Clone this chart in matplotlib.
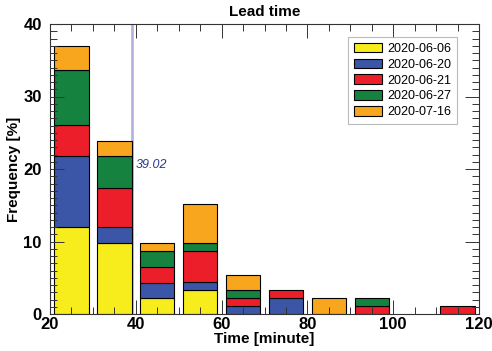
import matplotlib
matplotlib.use("Agg")
import matplotlib.pyplot as plt
import numpy as np
from matplotlib.ticker import MultipleLocator

plt.rcParams["font.family"] = ["Liberation Sans", "DejaVu Sans"]

# bin centres (minute) and per-day frequency [%] (stacked)
bin_centers = [25, 35, 45, 55, 65, 75, 85, 95, 105, 115]
dates = ["2020-06-06", "2020-06-20", "2020-06-21", "2020-06-27", "2020-07-16"]
freq_0606 = [11.96, 9.78, 2.17, 3.26, 0, 0, 0, 0, 0, 0]
freq_0620 = [9.78, 2.17, 2.17, 1.09, 1.09, 2.17, 0, 0, 0, 0]
freq_0621 = [4.35, 5.43, 2.17, 4.35, 1.09, 1.09, 0, 1.09, 0, 1.09]
freq_0627 = [7.61, 4.35, 2.17, 1.09, 1.09, 0, 0, 1.09, 0, 0]
freq_0716 = [3.26, 2.17, 1.09, 5.43, 2.17, 0, 2.17, 0, 0, 0]
mean_lead = 39.02

colors = ["#F7EC1C", "#3B56A6", "#EC1E2A", "#15833F", "#F9A61F"]

fig = plt.figure(figsize=(4.92, 3.51), dpi=100)
ax = fig.add_axes([50 / 492, 37 / 351, 429 / 492, 290 / 351])

series = [freq_0606, freq_0620, freq_0621, freq_0627, freq_0716]
bottom = np.zeros(len(bin_centers))
for vals, col, lab in zip(series, colors, dates):
	vals = np.array(vals, dtype=float)
	bars = ax.bar(bin_centers, vals, width=8, bottom=bottom, color=col,
		edgecolor="black", linewidth=0.8, label=lab, zorder=1)
	for b, v in zip(bars, vals):
		if v == 0:
			b.set_visible(False)
	bottom += vals
#end_for

ax.axvline(mean_lead, color="#B4B4DE", linewidth=2, zorder=0.5)
ax.text(mean_lead + 1.0, 20.5, "%.2f" % mean_lead, color="#2B388C",
	fontsize=9, style="italic", ha="left", va="center")

ax.set_xlim(20, 120)
ax.set_ylim(0, 40)
ax.xaxis.set_major_locator(MultipleLocator(20))
ax.xaxis.set_minor_locator(MultipleLocator(5))
ax.yaxis.set_major_locator(MultipleLocator(10))
ax.yaxis.set_minor_locator(MultipleLocator(1))
ax.tick_params(which="both", direction="in", top=True, right=True, width=0.7, color="#333333")
ax.tick_params(which="major", length=10)
ax.tick_params(which="minor", length=5)
ax.tick_params(axis="x", which="major", pad=2, labelsize=12)
ax.tick_params(axis="y", which="major", pad=6, labelsize=12)
for lbl in ax.get_xticklabels() + ax.get_yticklabels():
	lbl.set_fontweight("bold")
for sp in ax.spines.values():
	sp.set_linewidth(0.8)
	sp.set_color("#333333")

ax.set_title("Lead time", fontsize=11, fontweight="bold", pad=6)
ax.set_xlabel("Time [minute]", fontsize=11, fontweight="bold", labelpad=0)
ax.set_ylabel("Frequency [%]", fontsize=11, fontweight="bold", labelpad=2)

leg = ax.legend(loc="upper right", bbox_to_anchor=(457 / 492, 1 - 37 / 351),
	bbox_transform=fig.transFigure, fontsize=9, frameon=True, fancybox=False,
	edgecolor="#AAAAAA", handlelength=2.3, handleheight=0.8, handletextpad=0.4,
	labelspacing=0.3, borderpad=0.45, borderaxespad=0)
leg.get_frame().set_linewidth(0.8)

fig.savefig("out.png", dpi=100)
